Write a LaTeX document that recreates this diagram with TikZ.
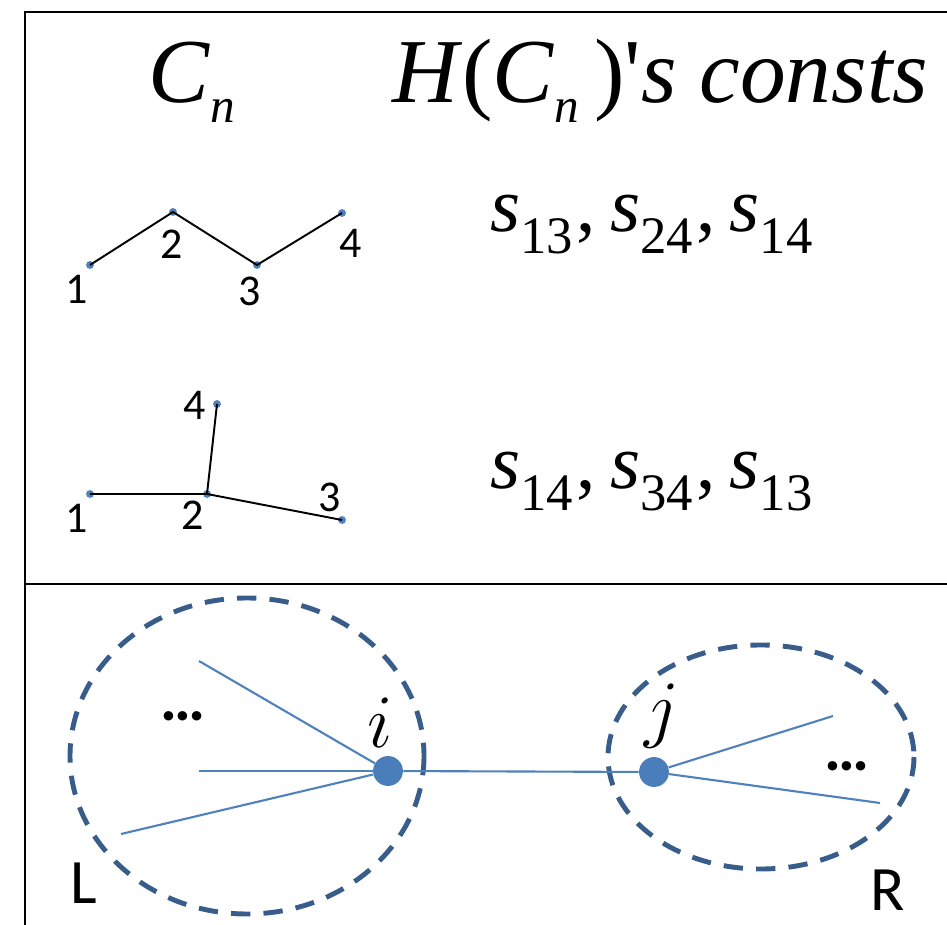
\RequirePackage{fix-cm}
\documentclass[tikz,border=0pt]{standalone}
\usepackage{fontspec}
\setmainfont{Liberation Serif}
\newfontfamily\calibri{Carlito}
\usetikzlibrary{positioning}
\definecolor{NodeBlue}{RGB}{74,126,187}
\definecolor{EdgeBlue}{RGB}{79,129,189}
\definecolor{RingBlue}{RGB}{56,93,138}
% lowered subscripts as the equation editor sets them
\newcommand{\titlesub}[1]{\raisebox{-11pt}{\fontsize{28}{28}\selectfont\textit{#1}}}
\newcommand{\lowsub}[1]{\raisebox{-12pt}{\fontsize{30}{30}\selectfont #1}}
\newcommand{\sep}{\kern2pt,\kern8pt}

\begin{document}
\begin{tikzpicture}[
        x=0.02cm, y=-0.02cm,
        every node/.style={inner sep=0pt},
        framerule/.style={line width=1.4pt},
        bond/.style={line width=1.1pt},
        vtx/.style={circle, fill=EdgeBlue, minimum size=4.5pt},
        num/.style={font=\calibri\fontsize{25}{25}\selectfont},
        hub/.style={circle, fill=NodeBlue, minimum size=17pt},
        spoke/.style={draw=EdgeBlue, line width=1.2pt},
        ring/.style={draw=RingBlue, line width=2.8pt, dash pattern=on 11pt off 7.5pt},
        sidelabel/.style={font=\calibri\fontsize{36}{36}\selectfont},
        titletext/.style={font=\fontsize{52}{52}\selectfont, anchor=base west},
        constext/.style={font=\fontsize{44}{44}\selectfont, anchor=base west},
        mathlabel/.style={font=\fontsize{43}{43}\selectfont, anchor=base}
    ]
    \useasboundingbox (0,0) rectangle (947,925);

    % Table rules
    \draw[framerule] (947,12) -| (25,925);
    \draw[framerule] (25,584) -- (947,584);

    % Column heads
    \node[titletext] (cn) at (148,103) {\textit{C}\titlesub{n}};
    \node[titletext] (hcn) at (392,103) {\textit{H}(\textit{C}\titlesub{n}\,)\textquotesingle\textit{s consts}};

    % Path on four vertices
    \node[vtx] (a1) at (90,265) {};
    \node[vtx] (a2) at (173,212) {};
    \node[vtx] (a3) at (257,265) {};
    \node[vtx] (a4) at (342,213) {};
    \draw[bond] (a1.center) -- (a2.center) -- (a3.center) -- (a4.center);
    \node[num] (la1) at (77,289) {1};
    \node[num] (la2) at (172,244) {2};
    \node[num] (la3) at (250,291) {3};
    \node[num] (la4) at (351,243) {4};
    \node[constext] (row1) at (490,232) {\textit{s}\lowsub{13}\sep\textit{s}\lowsub{24}\sep\textit{s}\lowsub{14}};

    % Star on four vertices
    \node[vtx] (b1) at (90,494) {};
    \node[vtx] (b2) at (207,494) {};
    \node[vtx] (b3) at (342,520) {};
    \node[vtx] (b4) at (217,404) {};
    \draw[bond] (b1.center) -- (b2.center) -- (b3.center);
    \draw[bond] (b2.center) -- (b4.center);
    \node[num] (lb1) at (77,518) {1};
    \node[num] (lb2) at (193,515) {2};
    \node[num] (lb3) at (330,497) {3};
    \node[num] (lb4) at (195,405) {4};
    \node[constext] (row2) at (490,489) {\textit{s}\lowsub{14}\sep\textit{s}\lowsub{34}\sep\textit{s}\lowsub{13}};

    % Cut at edge ij
    \draw[ring] (247,756) ellipse [x radius=177, y radius=158];
    \draw[ring] (761,757) ellipse [x radius=153, y radius=112];
    \coordinate (l1) at (199,661);
    \coordinate (l2) at (199,771);
    \coordinate (l3) at (121,834);
    \coordinate (r1) at (833,716);
    \coordinate (r2) at (880,803);
    \node[hub] (i) at (388,771) {};
    \node[hub] (j) at (654,772) {};
    \draw[spoke] (i) -- (l1);
    \draw[spoke] (i) -- (l2);
    \draw[spoke] (i) -- (l3);
    \draw[spoke] (i) -- (j);
    \draw[spoke] (j) -- (r1);
    \draw[spoke] (j) -- (r2);
    \node[mathlabel] (ilab) at (380,747) {$i$};
    \node[mathlabel] (jlab) at (662,733) {$j$};
    \node[sidelabel] (ldots) at (183,716) {\textbf{…}};
    \node[sidelabel] (rdots) at (847,766) {\textbf{…}};
    \node[sidelabel] (lset) at (84,883) {L};
    \node[sidelabel] (rset) at (888,890) {R};
\end{tikzpicture}
\end{document}
